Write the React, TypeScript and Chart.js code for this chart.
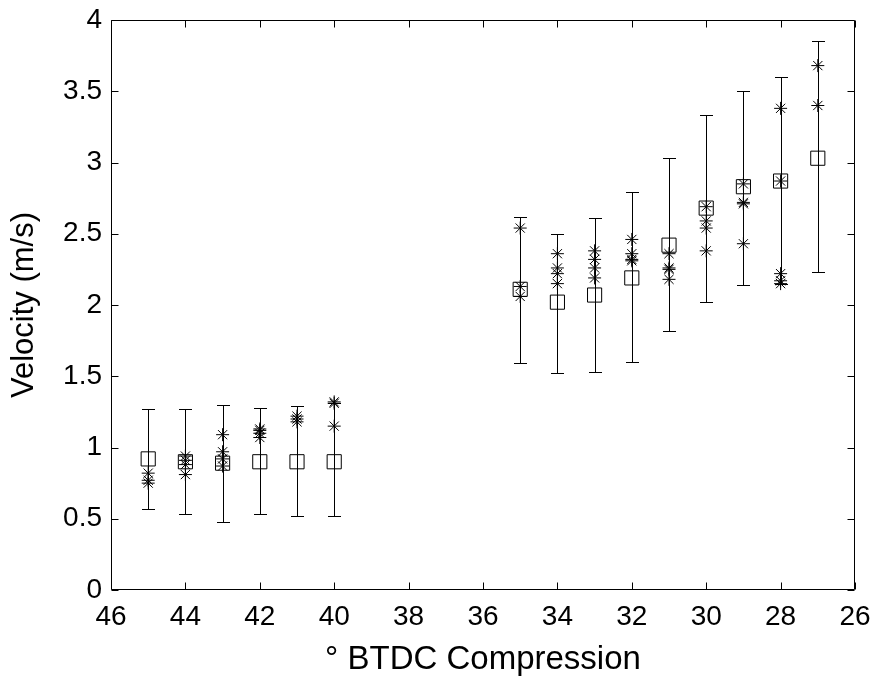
import React, { useEffect, useRef } from "react";
import { Chart, registerables } from "chart.js";

Chart.register(...registerables);

// Crank angle (degrees BTDC compression)
const crankAngles = [45, 44, 43, 42, 41, 40, 35, 34, 33, 32, 31, 30, 29, 28, 27];
// Mean velocity (squares)
const meanVelocity = [0.92, 0.9, 0.89, 0.9, 0.9, 0.9, 2.11, 2.02, 2.07, 2.19, 2.42, 2.68, 2.83, 2.87, 3.03];
// Error bar limits
const errLow = [0.57, 0.53, 0.48, 0.53, 0.52, 0.52, 1.59, 1.52, 1.53, 1.6, 1.82, 2.02, 2.14, 2.15, 2.23];
const errHigh = [1.27, 1.27, 1.3, 1.28, 1.29, 1.31, 2.62, 2.5, 2.61, 2.79, 3.03, 3.33, 3.5, 3.6, 3.85];
// Individual trial velocities (asterisks), one list per crank angle
const trialVelocities = [
  [0.82, 0.77, 0.75],
  [0.94, 0.91, 0.88, 0.81],
  [1.09, 0.97, 0.92, 0.87],
  [1.13, 1.12, 1.1, 1.07],
  [1.22, 1.2, 1.18],
  [1.32, 1.31, 1.15],
  [2.54, 2.13, 2.06],
  [2.36, 2.26, 2.22, 2.15],
  [2.38, 2.32, 2.26, 2.19],
  [2.46, 2.36, 2.32, 2.31],
  [2.36, 2.26, 2.25, 2.18],
  [2.69, 2.59, 2.54, 2.38],
  [2.85, 2.72, 2.71, 2.43],
  [3.38, 2.87, 2.22, 2.17, 2.15],
  [3.68, 3.4],
];

const xTicks = [46, 44, 42, 40, 38, 36, 34, 32, 30, 28, 26];
const yTicks = [0, 0.5, 1, 1.5, 2, 2.5, 3, 3.5, 4];

const FONT = "'Liberation Sans', Arial, Helvetica, sans-serif";

const boxAndErrorPlugin = {
  id: "boxAndError",
  beforeDatasetsDraw(chart: any) {
    const ctx = chart.ctx;
    const xs = chart.scales.x;
    const ys = chart.scales.y;
    ctx.save();
    ctx.strokeStyle = "#000";
    ctx.lineWidth = 1;
    const cap = 6.5;
    crankAngles.forEach((a, i) => {
      const px = Math.round(xs.getPixelForValue(a)) + 0.5;
      const lo = Math.round(ys.getPixelForValue(errLow[i])) + 0.5;
      const hi = Math.round(ys.getPixelForValue(errHigh[i])) + 0.5;
      ctx.beginPath();
      ctx.moveTo(px, lo);
      ctx.lineTo(px, hi);
      ctx.moveTo(px - cap, lo);
      ctx.lineTo(px + cap, lo);
      ctx.moveTo(px - cap, hi);
      ctx.lineTo(px + cap, hi);
      ctx.stroke();
    });
    ctx.restore();
  },
  afterDraw(chart: any) {
    const ctx = chart.ctx;
    const { left, right, top, bottom } = chart.chartArea;
    const xs = chart.scales.x;
    const ys = chart.scales.y;
    const L = Math.round(left) + 0.5;
    const R = Math.round(right) - 0.5;
    const T = Math.round(top) + 0.5;
    const B = Math.round(bottom) - 0.5;
    const tl = 7;
    ctx.save();
    ctx.strokeStyle = "#000";
    ctx.lineWidth = 1;
    ctx.beginPath();
    xTicks.forEach((v) => {
      const px = Math.round(xs.getPixelForValue(v)) + 0.5;
      ctx.moveTo(px, B);
      ctx.lineTo(px, B - tl);
      ctx.moveTo(px, T);
      ctx.lineTo(px, T + tl);
    });
    yTicks.forEach((v) => {
      const py = Math.round(ys.getPixelForValue(v)) + 0.5;
      ctx.moveTo(L, py);
      ctx.lineTo(L + tl, py);
      ctx.moveTo(R, py);
      ctx.lineTo(R - tl, py);
    });
    ctx.stroke();
    ctx.beginPath();
    ctx.rect(L, T, R - L, B - T);
    ctx.stroke();
    ctx.restore();
  },
};

export default function App() {
  const ref = useRef<HTMLCanvasElement>(null);
  useEffect(() => {
    if (!ref.current) return;
    const meanPoints = crankAngles.map((a, i) => ({ x: a, y: meanVelocity[i] }));
    const trialPoints: { x: number; y: number }[] = [];
    crankAngles.forEach((a, i) => {
      trialVelocities[i].forEach((v) => trialPoints.push({ x: a, y: v }));
    });
    const chart = new Chart(ref.current, {
      type: "scatter",
      data: {
        datasets: [
          {
            label: "Mean",
            data: meanPoints,
            pointStyle: "rect",
            pointRadius: 10,
            borderColor: "#000",
            backgroundColor: "rgba(0,0,0,0)",
            borderWidth: 1,
          },
          {
            label: "Trials",
            data: trialPoints,
            pointStyle: "star",
            pointRadius: 6.5,
            borderColor: "#000",
            backgroundColor: "rgba(0,0,0,0)",
            borderWidth: 1,
          },
        ],
      },
      options: {
        responsive: false,
        animation: false,
        devicePixelRatio: 1,
        layout: { autoPadding: false, padding: { top: 20, right: 20, left: 0, bottom: 0 } },
        plugins: {
          legend: { display: false },
          tooltip: { enabled: false },
        },
        scales: {
          x: {
            type: "linear",
            min: 26,
            max: 46,
            reverse: true,
            afterFit: (s: any) => {
              s.height = 92;
              s.paddingLeft = 0;
              s.paddingRight = 0;
            },
            afterBuildTicks: (s: any) => {
              s.ticks = xTicks.map((v) => ({ value: v }));
            },
            grid: { display: false, drawTicks: false },
            border: { display: false },
            ticks: {
              color: "#000",
              font: { family: FONT, size: 28 },
              padding: 10,
              maxRotation: 0,
              autoSkip: false,
              callback: (v: any) => String(v),
            },
            title: {
              display: true,
              text: "° BTDC Compression",
              color: "#000",
              font: { family: FONT, size: 33 },
              padding: { top: 0, bottom: 2 },
            },
          },
          y: {
            type: "linear",
            min: 0,
            max: 4,
            afterFit: (s: any) => {
              s.width = 111;
              s.paddingTop = 0;
              s.paddingBottom = 0;
            },
            afterBuildTicks: (s: any) => {
              s.ticks = yTicks.map((v) => ({ value: v }));
            },
            grid: { display: false, drawTicks: false },
            border: { display: false },
            ticks: {
              color: "#000",
              font: { family: FONT, size: 28 },
              padding: 9,
              autoSkip: false,
              callback: (v: any) => String(v),
            },
            title: {
              display: true,
              text: "Velocity (m/s)",
              color: "#000",
              font: { family: FONT, size: 31 },
              padding: { top: 6, bottom: 0 },
            },
          },
        },
      },
      plugins: [boxAndErrorPlugin],
    });
    return () => chart.destroy();
  }, []);
  return (
    <div style={{ position: "fixed", left: 0, top: 0, width: 875, height: 682, background: "#fff" }}>
      <canvas ref={ref} width={875} height={682} style={{ width: 875, height: 682 }} />
    </div>
  );
}
